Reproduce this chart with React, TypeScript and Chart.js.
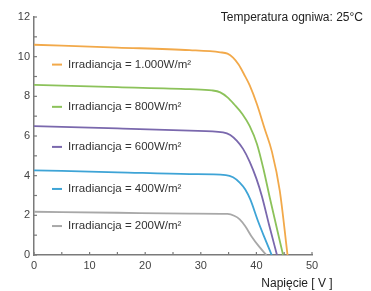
import React, { useEffect, useRef } from "react";
import { Chart, registerables } from "chart.js";

Chart.register(...registerables);

const FONT = "'Liberation Sans', Arial, sans-serif";

const seriesLabels = [
  "Irradiancja = 1.000W/m²",
  "Irradiancja = 800W/m²",
  "Irradiancja = 600W/m²",
  "Irradiancja = 400W/m²",
  "Irradiancja = 200W/m²",
];
const seriesColors = ["#f2a94a", "#8cc25a", "#7a68ad", "#3ea4d6", "#a8a8a8"];

// voltage [V], current [A]
const irr1000V = [0, 15, 28, 33.5, 34.8, 35.8, 36.8, 37.8, 38.8, 40.1, 41.5, 42.8, 44.2, 45.6];
const irr1000I = [10.6, 10.46, 10.33, 10.22, 10.15, 9.95, 9.6, 9.1, 8.55, 7.6, 6.35, 5.2, 3.25, 0];
const irr800V = [0, 15, 28, 32, 33.5, 34.8, 36, 37.5, 38.8, 40.1, 41.3, 42.4, 44.8];
const irr800I = [8.58, 8.46, 8.36, 8.3, 8.2, 7.95, 7.6, 7.1, 6.5, 5.6, 4.3, 2.9, 0];
const irr600V = [0, 15, 28, 34, 35.3, 36.5, 37.6, 38.8, 40, 41, 42.3, 43.7];
const irr600I = [6.5, 6.38, 6.27, 6.18, 6.05, 5.75, 5.35, 4.7, 3.85, 2.95, 1.5, 0];
const irr400V = [0, 15, 28, 34.5, 35.8, 37, 38, 38.9, 40.3, 41.5, 42.75];
const irr400I = [4.27, 4.17, 4.08, 4.03, 3.92, 3.65, 3.3, 2.8, 1.7, 0.85, 0];
const irr200V = [0, 15, 28, 34.8, 36, 37, 38, 39.1, 40.5, 41.8];
const irr200I = [2.18, 2.13, 2.09, 2.07, 1.98, 1.8, 1.45, 0.95, 0.42, 0];

const seriesV = [irr1000V, irr800V, irr600V, irr400V, irr200V];
const seriesI = [irr1000I, irr800I, irr600I, irr400I, irr200I];

// y value (in A) at which each inline legend entry is drawn
const labelAnchorI = [9.6, 7.47, 5.45, 3.33, 1.46];

const titleText = "Temperatura ogniwa: 25°C";
const xAxisTitle = "Napięcie [ V ]";

const overlayPlugin = {
  id: "overlay",
  afterDraw(chart: any) {
    const { ctx, chartArea, scales } = chart;
    const x = scales.x;
    const y = scales.y;
    ctx.save();
    // inward ticks
    ctx.strokeStyle = "#7a7a7a";
    ctx.lineWidth = 1.2;
    y.ticks.forEach((t: any) => {
      const py = y.getPixelForValue(t.value);
      ctx.beginPath();
      ctx.moveTo(chartArea.left, py);
      ctx.lineTo(chartArea.left + 3, py);
      ctx.stroke();
    });
    x.ticks.forEach((t: any) => {
      const px = x.getPixelForValue(t.value);
      ctx.beginPath();
      ctx.moveTo(px, chartArea.bottom);
      ctx.lineTo(px, chartArea.bottom - 3);
      ctx.stroke();
    });
    // inline legend
    ctx.font = "11.5px " + FONT;
    ctx.textBaseline = "middle";
    ctx.textAlign = "left";
    seriesLabels.forEach((lab, i) => {
      const py = y.getPixelForValue(labelAnchorI[i]);
      const lx = chartArea.left + 18;
      ctx.strokeStyle = seriesColors[i];
      ctx.lineWidth = 2;
      ctx.beginPath();
      ctx.moveTo(lx, py);
      ctx.lineTo(lx + 10, py);
      ctx.stroke();
      ctx.fillStyle = "#333";
      ctx.fillText(lab, lx + 16, py);
    });
    // title
    ctx.font = "12px " + FONT;
    ctx.fillStyle = "#222";
    ctx.textAlign = "right";
    ctx.fillText(titleText, chart.width - 8, 18);
    // axis title
    ctx.textAlign = "center";
    ctx.fillText(xAxisTitle, chartArea.right - 15, 284);
    ctx.restore();
  },
};

export default function App() {
  const ref = useRef<HTMLCanvasElement | null>(null);
  useEffect(() => {
    document.body.style.margin = "0";
    if (!ref.current) return;
    const chart = new Chart(ref.current, {
      type: "line",
      data: {
        datasets: seriesLabels.map((label, i) => ({
          label,
          data: seriesV[i].map((v, k) => ({ x: v, y: seriesI[i][k] })),
          borderColor: seriesColors[i],
          borderWidth: 1.8,
          pointRadius: 0,
          fill: false,
          cubicInterpolationMode: "monotone" as const,
        })),
      },
      options: {
        animation: false,
        responsive: false,
        maintainAspectRatio: false,
        layout: { padding: { top: 17, right: 59, left: 0, bottom: 0 } },
        plugins: { legend: { display: false }, tooltip: { enabled: false }, title: { display: false } },
        scales: {
          x: {
            type: "linear",
            min: 0,
            max: 50,
            ticks: {
              stepSize: 5,
              padding: 4,
              color: "#444",
              font: { family: FONT, size: 11 },
              callback: (v: any) => (Number(v) % 10 === 0 ? String(v) : ""),
              maxRotation: 0,
              autoSkip: false,
            },
            grid: { display: true, drawOnChartArea: false, drawTicks: false },
            border: { display: true, color: "#7a7a7a", width: 1.5 },
            afterFit: (s: any) => {
              s.height = 36;
            },
          },
          y: {
            type: "linear",
            min: 0,
            max: 12,
            ticks: {
              stepSize: 1,
              padding: 4,
              color: "#444",
              font: { family: FONT, size: 11 },
              callback: (v: any) => (Number(v) % 2 === 0 ? String(v) : ""),
              autoSkip: false,
            },
            grid: { display: true, drawOnChartArea: false, drawTicks: false },
            border: { display: true, color: "#7a7a7a", width: 1.5 },
            afterFit: (s: any) => {
              s.width = 34;
            },
          },
        },
      },
      plugins: [overlayPlugin],
    });
    return () => chart.destroy();
  }, []);
  return <canvas ref={ref} width={371} height={291} style={{ display: "block", width: 371, height: 291 }} />;
}
